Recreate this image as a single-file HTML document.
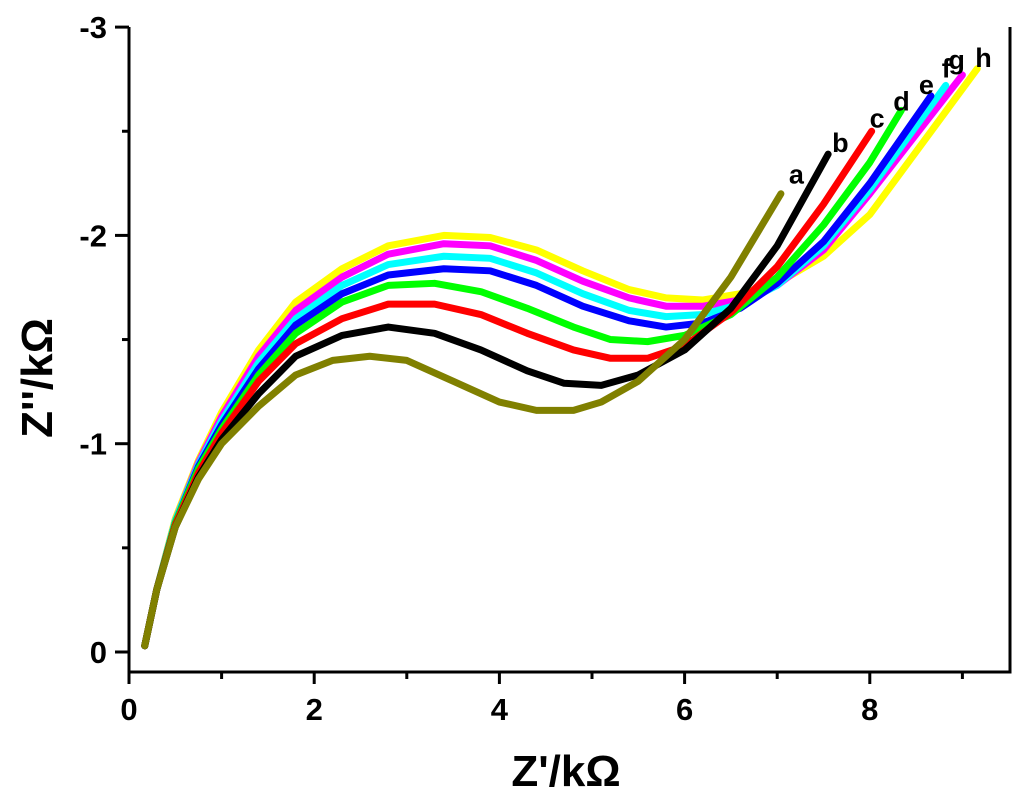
<!DOCTYPE html>
<html><head><meta charset="utf-8"><style>
body{margin:0;background:#fff;}
svg{display:block;font-family:"Liberation Sans",Arial,sans-serif;font-weight:bold;}
</style></head><body>
<svg id="chart" width="1024" height="796"></svg>
<script>
const xTicks=[0,2,4,6,8];
const yTicks=[0,-1,-2,-3];
const seriesNames=['a','b','c','d','e','f','g','h'];
const seriesColors=['#808000','#000000','#ff0000','#00ff00','#0000ff','#00ffff','#ff00ff','#ffff00'];
const gx=[0.17,0.3,0.5,0.75,1.0,1.4,1.8,2.3,2.8,3.4,3.9,4.4,4.9,5.4,5.8,6.2,6.6,7.0,7.5,8.0];
const aX=[0.17,0.3,0.5,0.75,1.0,1.4,1.8,2.2,2.6,3.0,3.5,4.0,4.4,4.8,5.1,5.5,6.0,6.5,7.04];
const aY=[0.03,0.3,0.6,0.83,1.0,1.18,1.33,1.4,1.42,1.4,1.3,1.2,1.16,1.16,1.2,1.3,1.5,1.8,2.2];
const bX=[0.17,0.3,0.5,0.75,1.0,1.4,1.8,2.3,2.8,3.3,3.8,4.3,4.7,5.1,5.5,6.0,6.5,7.0,7.55];
const bY=[0.03,0.3,0.6,0.84,1.02,1.24,1.42,1.52,1.56,1.53,1.45,1.35,1.29,1.28,1.33,1.45,1.65,1.95,2.39];
const cX=[0.17,0.3,0.5,0.75,1.0,1.4,1.8,2.3,2.8,3.3,3.8,4.3,4.8,5.2,5.6,6.0,6.5,7.0,7.5,8.02];
const cY=[0.03,0.3,0.61,0.86,1.05,1.3,1.48,1.6,1.67,1.67,1.62,1.53,1.45,1.41,1.41,1.47,1.63,1.85,2.15,2.5];
const dX=[0.17,0.3,0.5,0.75,1.0,1.4,1.8,2.3,2.8,3.3,3.8,4.3,4.8,5.2,5.6,6.0,6.5,7.0,7.5,8.0,8.34];
const dY=[0.03,0.3,0.62,0.88,1.07,1.33,1.53,1.68,1.76,1.77,1.73,1.65,1.56,1.5,1.49,1.52,1.62,1.8,2.05,2.35,2.6];
const eX=gx.concat([8.66]);
const eY=[0.03,0.3,0.62,0.89,1.09,1.36,1.57,1.72,1.81,1.84,1.83,1.76,1.66,1.59,1.56,1.58,1.65,1.77,1.97,2.25,2.67];
const fX=gx.concat([8.82]);
const fY=[0.03,0.3,0.63,0.9,1.11,1.39,1.6,1.76,1.86,1.9,1.89,1.82,1.72,1.64,1.61,1.62,1.67,1.76,1.95,2.22,2.72];
const hgX=gx.concat([9.0]);
const gY=[0.03,0.3,0.63,0.91,1.13,1.42,1.64,1.8,1.91,1.96,1.95,1.88,1.78,1.7,1.66,1.66,1.69,1.76,1.93,2.2,2.77];
const hX=gx.concat([9.16]);
const hY=[0.03,0.3,0.64,0.92,1.15,1.45,1.68,1.84,1.95,2.0,1.99,1.93,1.83,1.74,1.7,1.69,1.72,1.77,1.9,2.1,2.8];
const allX=[aX,bX,cX,dX,eX,fX,hgX,hX];
const allY=[aY,bY,cY,dY,eY,fY,gY,hY];
const labelOff=[[8,-10],[4,-2],[-2,-4],[-8,0],[-12,-2],[-4,-8],[-14,-6],[-2,-2]];

const NS='http://www.w3.org/2000/svg';
const svg=document.getElementById('chart');
const X0=129,X1=1010,Y0=672,YT=27;
const sx=v=>129+92.6*v;
const sy=v=>652+208.3*v;
function mk(t,a,p){const e=document.createElementNS(NS,t);for(const k in a)e.setAttribute(k,a[k]);(p||svg).appendChild(e);return e;}

const frame=mk('path',{d:`M${X0},${YT} V${Y0} H${X1} V${YT}`,fill:'none',stroke:'#000','stroke-width':3});



for(let v=0;v<=9;v++){
  const major=v%2===0;
  const t=mk('line',{x1:sx(v),x2:sx(v),y1:Y0,y2:Y0+(major?12:7),stroke:'#000','stroke-width':3});
  
  
}
xTicks.forEach(v=>{
  const t=mk('text',{x:sx(v),y:Y0+48,'text-anchor':'middle','font-size':31});
  t.textContent=v;
  
  
});
for(let v=0;v>=-3;v-=0.5){
  const major=Number.isInteger(v);
  const t=mk('line',{x1:X0,x2:X0-(major?14:7),y1:sy(v),y2:sy(v),stroke:'#000','stroke-width':3});
  
  
}
yTicks.forEach(v=>{
  const t=mk('text',{x:X0-22,y:sy(v)+11,'text-anchor':'end','font-size':31});
  t.textContent=v;
  
  
});
const xt=mk('text',{x:566,y:786,'text-anchor':'middle','font-size':44});
xt.textContent="Z'/kΩ";


const yt=mk('text',{x:0,y:0,'text-anchor':'middle','font-size':44,transform:'translate(52,378) rotate(-90)'});
yt.textContent="Z''/kΩ";



for(let i=7;i>=0;i--){
  const xs=allX[i],ys=allY[i];
  const pts=xs.map((x,j)=>sx(x)+','+sy(-ys[j])).join(' ');
  const pl=mk('polyline',{points:pts,fill:'none',stroke:seriesColors[i],'stroke-width':7,'stroke-linejoin':'round','stroke-linecap':'round'});
  
  
}
for(let i=0;i<8;i++){
  const xs=allX[i],ys=allY[i],n=xs.length-1;
  const lb=mk('text',{x:sx(xs[n])+labelOff[i][0],y:sy(-ys[n])+labelOff[i][1],'font-size':27});
  lb.textContent=seriesNames[i];
  
  
}
</script>
</body></html>
